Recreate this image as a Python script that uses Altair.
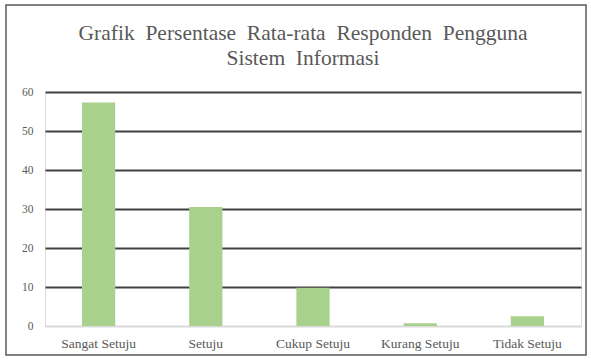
import altair as alt
import pandas as pd

categories = ["Sangat Setuju", "Setuju", "Cukup Setuju", "Kurang Setuju", "Tidak Setuju"]
values = [57.3, 30.5, 9.8, 0.7, 2.5]
y_ticks = [0, 10, 20, 30, 40, 50, 60]
title_lines = ["Grafik\u00a0 Persentase\u00a0 Rata-rata\u00a0 Responden\u00a0 Pengguna",
               "Sistem\u00a0 Informasi"]

df = pd.DataFrame({"kategori": categories, "persen": values})

W, H = 536, 234
FONT = "Liberation Serif"

bars = alt.Chart(df).mark_bar(color="#A9D18E").encode(
    x=alt.X("kategori:N", sort=categories, title=None,
            scale=alt.Scale(paddingInner=0.69, paddingOuter=0.345),
            axis=alt.Axis(labelAngle=0, labelFont=FONT, labelFontSize=13.5,
                          labelColor="#595959", labelPadding=10, ticks=False,
                          domainColor="#d9d9d9", domainWidth=1)),
    y=alt.Y("persen:Q", title=None,
            scale=alt.Scale(domain=[0, 60], nice=False),
            axis=alt.Axis(values=y_ticks, labelFont=FONT, labelFontSize=11.5,
                          labelColor="#595959", labelPadding=12, ticks=False,
                          domain=False, grid=True, gridWidth=2,
                          gridColor=alt.condition(alt.datum.value == 0,
                                                  alt.value("#d9d9d9"),
                                                  alt.value("#404040")))),
)

deco = pd.DataFrame({"a": [0]})

border = alt.Chart(deco).mark_rect(
    fill=None, stroke="#595959", strokeWidth=1.5, clip=False
).encode(
    x=alt.value(-39), x2=alt.value(541), y=alt.value(-87), y2=alt.value(263)
)

title = alt.Chart(deco).mark_text(
    text=title_lines, font=FONT, fontSize=21.5, color="#595959",
    align="center", baseline="alphabetic", lineHeight=25, clip=False
).encode(x=alt.value(258), y=alt.value(-52))

chart = alt.layer(bars, border, title).properties(
    width=W, height=H,
    autosize=alt.AutoSizeParams(type="none"),
    padding={"left": 45, "top": 92, "right": 10, "bottom": 35},
).configure_view(stroke=None).configure(background="white")

chart.save("out.html", embed_options={"renderer": "svg", "actions": False})
